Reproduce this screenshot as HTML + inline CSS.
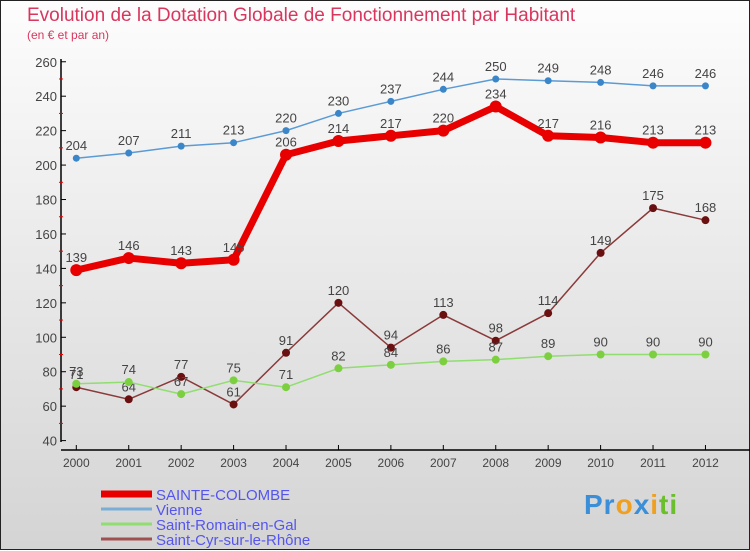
<!DOCTYPE html>
<html><head><meta charset="utf-8"><style>
body{margin:0;width:750px;height:550px;overflow:hidden;font-family:"Liberation Sans",sans-serif}
#wrap{position:relative;width:748px;height:548px;border:1px solid #222;background:linear-gradient(#fdfdfd,#d4d4d4)}
.t{position:absolute;white-space:nowrap}
</style></head><body>
<div id="wrap">
<div class="t" style="left:26px;top:4px;font-size:19px;color:#d9365e">Evolution de la Dotation Globale de Fonctionnement par Habitant</div>
<div class="t" style="left:26px;top:27px;font-size:12px;color:#d9365e">(en € et par an)</div>
<svg id="chart" width="750" height="550" style="position:absolute;left:0;top:0"></svg>
<div class="t" style="left:583px;top:488px;font-size:28px;font-weight:bold;letter-spacing:1px"><span style="color:#3a8fd8">Pr</span><span style="color:#f0a020">o</span><span style="color:#3a8fd8">x</span><span style="color:#f0a020">i</span><span style="color:#6cbf2c">ti</span></div>
</div>
<script>
const years=[2000,2001,2002,2003,2004,2005,2006,2007,2008,2009,2010,2011,2012];
const yTicks=[40,60,80,100,120,140,160,180,200,220,240,260];
const sainteColombe=[139,146,143,145,206,214,217,220,234,217,216,213,213];
const vienne=[204,207,211,213,220,230,237,244,250,249,248,246,246];
const saintRomain=[73,74,67,75,71,82,84,86,87,89,90,90,90];
const saintCyr=[71,64,77,61,91,120,94,113,98,114,149,175,168];
const NS='http://www.w3.org/2000/svg';
const svg=document.getElementById('chart');
const X=i=>75.3+i*52.43;
const Y=v=>439.6-(v-40)*1.722;
function el(t,a,p){const e=document.createElementNS(NS,t);for(const k in a)e.setAttribute(k,a[k]);(p||svg).appendChild(e);return e;}
// axes
let ax=el('line',{x1:60,y1:58,x2:60,y2:441,stroke:'#000','stroke-width':1.5});


let bx=el('line',{x1:60,y1:449,x2:750,y2:449,stroke:'#000','stroke-width':1.5});


yTicks.forEach(v=>{
 el('line',{x1:60,y1:Y(v),x2:65,y2:Y(v),stroke:'#000'});
 if(v<260) el('line',{x1:58,y1:Y(v+10),x2:62,y2:Y(v+10),stroke:'#e00'});
 const t=el('text',{x:56,y:Y(v)+5,'text-anchor':'end','font-size':13,fill:'#444'});
 t.textContent=v;
 
 
});
years.forEach((y,i)=>{
 el('line',{x1:X(i),y1:449,x2:X(i),y2:444,stroke:'#000'});
 const t=el('text',{x:X(i),y:466,'text-anchor':'middle','font-size':12,fill:'#444'});
 t.textContent=y;
 
 
});
function series(data,color,w,r,dot,name){
 const g=el('g',{});
 
 
 el('polyline',{points:data.map((v,i)=>X(i)+','+Y(v)).join(' '),fill:'none',stroke:color,'stroke-width':w,'stroke-linejoin':'round'},g);
 data.forEach((v,i)=>{
  const c=el('circle',{cx:X(i),cy:Y(v),r:r,fill:dot},g);
  
  
  const t=el('text',{x:X(i),y:Y(v)-8,'text-anchor':'middle','font-size':13,fill:'#444'},g);
  t.textContent=v;
 });
}
series(saintCyr,'#8a3a3a',1.5,4,'#6a1010','saint-cyr-series');
series(saintRomain,'#90dd70',1.5,4,'#7cd040','saint-romain-series');
series(vienne,'#5b9bd5',1.5,3.5,'#3a86c8','vienne-series');
series(sainteColombe,'#e80000',7,6,'#e80000','sainte-colombe-series');
const legend=[['SAINTE-COLOMBE','#e80000',7],['Vienne','#7aaed6',3],['Saint-Romain-en-Gal','#90dd70',3],['Saint-Cyr-sur-le-Rhône','#a05050',3]];
legend.forEach((l,i)=>{
 const y=493+i*15;
 const g=el('g',{});
 
 
 el('line',{x1:100,y1:y,x2:151,y2:y,stroke:l[1],'stroke-width':l[2]},g);
 const t=el('text',{x:155,y:y+6,'font-size':15,fill:'#5555ee'},g);
 t.textContent=l[0];
});
</script>
</body></html>
